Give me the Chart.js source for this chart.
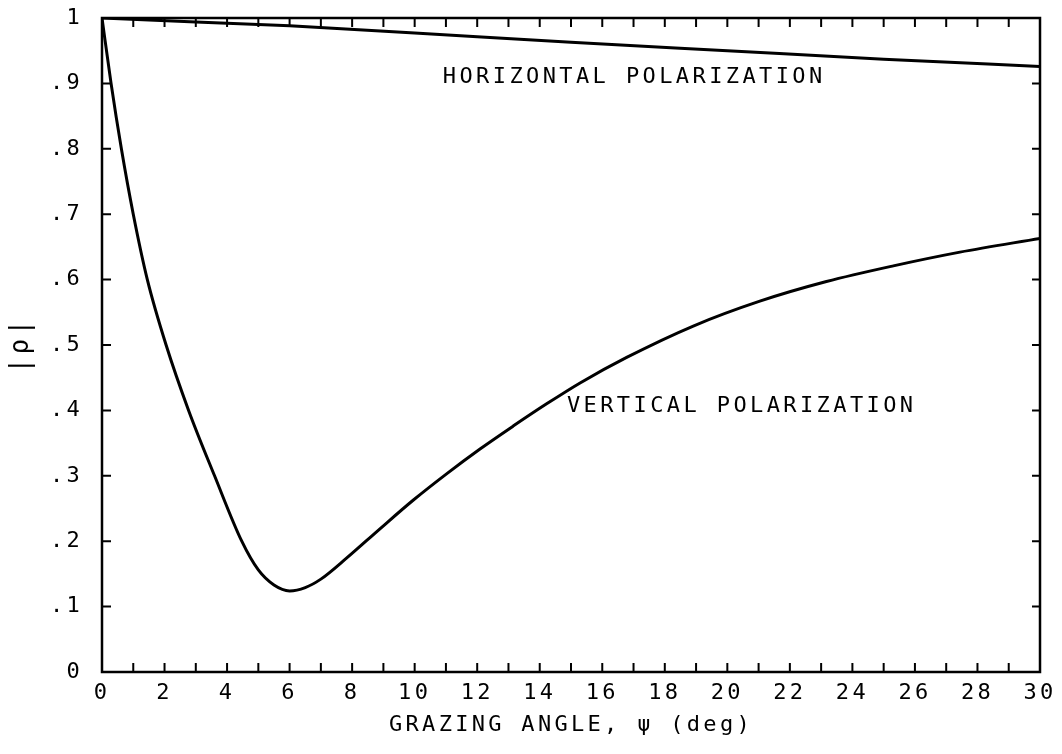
<!DOCTYPE html>
<html>
<head>
<meta charset="utf-8">
<script src="https://cdn.jsdelivr.net/npm/chart.js@4.4.1/dist/chart.umd.min.js"></script>
<style>
  html, body { margin: 0; padding: 0; background: #fff; }
</style>
</head>
<body>
<canvas id="chart" width="1062" height="754"></canvas>
<script>
// Horizontal polarization |rho| vs grazing angle (deg)
const angleH = [0, 3, 6, 10, 15, 20, 25, 30];
const rhoH = [1.0, 0.994, 0.988, 0.977, 0.963, 0.950, 0.937, 0.926];

// Vertical polarization |rho| vs grazing angle (deg)
const angleV = [0, 0.29, 0.62, 1.0, 1.45, 2.05, 2.77, 3.6, 4.47, 5.0, 5.5, 6.0, 6.5, 7.0,
    7.82, 8.89, 9.96, 11.02, 12.09, 13.15, 14.22, 15.29, 16.78, 18.91, 21.04, 23.17, 25.31, 27.44, 30];
const rhoV = [1.0, 0.9, 0.8, 0.7, 0.6, 0.5, 0.4, 0.3, 0.2, 0.156, 0.133, 0.124, 0.129, 0.142,
    0.174, 0.219, 0.263, 0.303, 0.341, 0.376, 0.410, 0.442, 0.481, 0.529, 0.567, 0.597, 0.621, 0.642, 0.663];

const xTickLabels = ['0', '2', '4', '6', '8', '10', '12', '14', '16', '18', '20', '22', '24', '26', '28', '30'];
const yTickLabels = ['0', '.1', '.2', '.3', '.4', '.5', '.6', '.7', '.8', '.9', '1'];

const curveLabels = [
    { text: 'HORIZONTAL POLARIZATION', x: 10.9, y: 0.91 },
    { text: 'VERTICAL POLARIZATION', x: 14.87, y: 0.407 },
];

const FONT = '"DejaVu Sans Mono", "Liberation Mono", monospace';

function toPoints(xs, ys) {
    return xs.map((v, i) => ({ x: v, y: ys[i] }));
}

// frame, inward ticks on all four sides, and curve labels
const framePlugin = {
    id: 'framePlugin',
    beforeDraw(chart) {
        chart.ctx.letterSpacing = '3.3px';
    },
    afterDraw(chart) {
        const { ctx, chartArea: a, scales: { x, y } } = chart;
        ctx.save();
        ctx.strokeStyle = '#000';
        ctx.lineWidth = 2.5;
        ctx.strokeRect(a.left, a.top, a.right - a.left, a.bottom - a.top);

        ctx.lineWidth = 2;
        ctx.beginPath();
        x.ticks.forEach(t => {
            const px = x.getPixelForValue(t.value);
            ctx.moveTo(px, a.bottom); ctx.lineTo(px, a.bottom - 9);
            ctx.moveTo(px, a.top); ctx.lineTo(px, a.top + 9);
        });
        y.ticks.forEach(t => {
            const py = y.getPixelForValue(t.value);
            ctx.moveTo(a.left, py); ctx.lineTo(a.left + 9, py);
            ctx.moveTo(a.right, py); ctx.lineTo(a.right - 8, py);
        });
        ctx.stroke();

        ctx.fillStyle = '#000';
        ctx.font = '22px ' + FONT;
        ctx.letterSpacing = '3.4px';
        ctx.textAlign = 'left';
        ctx.textBaseline = 'middle';
        curveLabels.forEach(l => {
            ctx.fillText(l.text, x.getPixelForValue(l.x), y.getPixelForValue(l.y));
        });
        ctx.restore();
    }
};

const ctx = document.getElementById('chart').getContext('2d');
const chart = new Chart(ctx, {
    type: 'line',
    data: {
        datasets: [{
            label: 'Horizontal polarization',
            data: toPoints(angleH, rhoH),
            borderColor: '#000',
            borderWidth: 3,
            pointRadius: 0,
            cubicInterpolationMode: 'monotone',
            fill: false,
        }, {
            label: 'Vertical polarization',
            data: toPoints(angleV, rhoV),
            borderColor: '#000',
            borderWidth: 3,
            pointRadius: 0,
            cubicInterpolationMode: 'monotone',
            fill: false,
        }],
    },
    options: {
        responsive: false,
        animation: false,
        layout: { padding: { left: 0, top: 18, right: 22, bottom: 0 } },
        plugins: {
            legend: { display: false },
            tooltip: { enabled: false },
        },
        scales: {
            x: {
                type: 'linear',
                min: 0,
                max: 30,
                afterFit: s => { s.height = 82; s.paddingLeft = 0; s.paddingRight = 0; },
                grid: { drawOnChartArea: false, drawTicks: false },
                border: { display: false },
                ticks: {
                    stepSize: 1,
                    autoSkip: false,
                    maxRotation: 0,
                    padding: 8,
                    color: '#000',
                    font: { family: FONT, size: 22 },
                    callback: v => (v % 2 === 0 ? xTickLabels[v / 2] : ''),
                },
                title: {
                    display: true,
                    text: 'GRAZING ANGLE, ψ (deg)',
                    color: '#000',
                    font: { family: FONT, size: 22 },
                    padding: { top: 0, bottom: 16 },
                },
            },
            y: {
                type: 'linear',
                min: 0,
                max: 1,
                afterFit: s => { s.width = 102; s.paddingTop = 0; s.paddingBottom = 0; },
                grid: { drawOnChartArea: false, drawTicks: false },
                border: { display: false },
                ticks: {
                    stepSize: 0.1,
                    autoSkip: false,
                    padding: 19,
                    color: '#000',
                    font: { family: FONT, size: 22 },
                    callback: v => yTickLabels[Math.round(v * 10)],
                },
                title: {
                    display: true,
                    text: '|ρ|',
                    color: '#000',
                    font: { family: FONT, size: 26 },
                    padding: { top: 6, bottom: 0 },
                },
            },
        },
    },
    plugins: [framePlugin],
});
</script>
</body>
</html>
